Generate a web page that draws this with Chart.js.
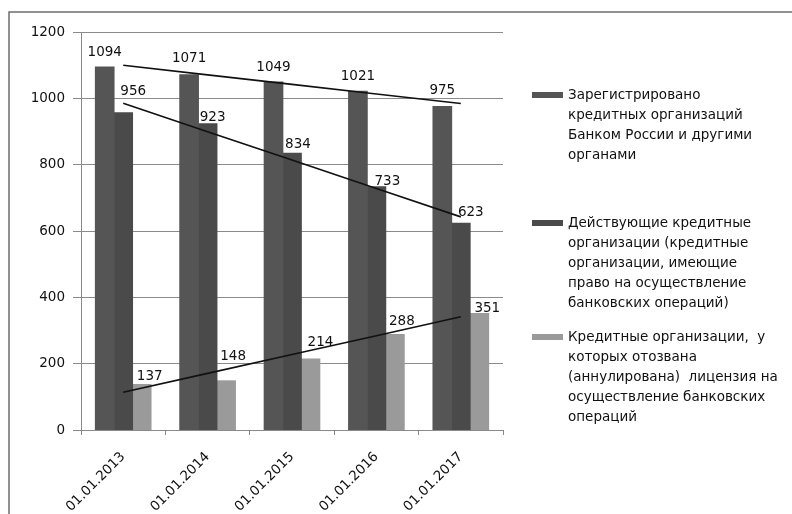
<!DOCTYPE html>
<html>
<head>
<meta charset="utf-8">
<script src="https://cdn.jsdelivr.net/npm/chart.js@4/dist/chart.umd.min.js"></script>
<style>
  html, body { margin: 0; padding: 0; background: #fff; }
  #wrap { position: relative; width: 792px; height: 514px; }
</style>
</head>
<body>
<div id="wrap"><canvas id="c" width="792" height="514"></canvas></div>
<script>
// Credit institutions in Russia, counts at the start of each year
const categories = ['01.01.2013', '01.01.2014', '01.01.2015', '01.01.2016', '01.01.2017'];
const registered = [1094, 1071, 1049, 1021, 975];
const active     = [956, 923, 834, 733, 623];
const revoked    = [137, 148, 214, 288, 351];

const yMin = 0, yMax = 1200, yStep = 200;

const seriesNames = [
  ['Зарегистрировано', 'кредитных организаций', 'Банком России и другими', 'органами'],
  ['Действующие кредитные', 'организации (кредитные', 'организации, имеющие', 'право на осуществление', 'банковских операций)'],
  ['Кредитные организации,  у', 'которых отозвана', '(аннулирована)  лицензия на', 'осуществление банковских', 'операций']
];

// styling
const barColors = ['#555555', '#4a4a4a', '#9a9a9a'];
const FONT = '"DejaVu Sans", sans-serif';
const TEXT = '#111';
// offsets of each value label from the top centre of its bar [dx, dy]
const labelNudge = [
  [[0, -15], [0, -16], [0, -15], [0, -15], [0, -16]],
  [[10, -21], [5, -6], [6, -9], [11, -5], [10, -11]],
  [[8, -8], [7, -24], [10, -17], [7, -13], [8, -5]]
];
const legendTop = [95, 223, 337];
const legendLineH = 20;

// least-squares straight line through a series, evaluated at each category
function trend(values) {
  const n = values.length;
  const xs = values.map((_, i) => i + 1);
  const mx = xs.reduce((a, b) => a + b, 0) / n;
  const my = values.reduce((a, b) => a + b, 0) / n;
  let sxy = 0, sxx = 0;
  for (let i = 0; i < n; i++) { sxy += (xs[i] - mx) * (values[i] - my); sxx += (xs[i] - mx) ** 2; }
  const k = sxy / sxx;
  return xs.map(x => my + k * (x - mx));
}

const barSets = [registered, active, revoked];

const datasets = barSets.map((vals, i) => ({
  type: 'bar',
  label: seriesNames[i].join(' '),
  data: vals,
  backgroundColor: barColors[i],
  borderWidth: 0,
  inflateAmount: 0.6,
  categoryPercentage: 0.657,
  barPercentage: 1.0,
  order: 2
}));
barSets.forEach((vals) => {
  datasets.push({
    type: 'line',
    label: '',
    data: trend(vals),
    borderColor: '#111',
    borderWidth: 1.6,
    pointRadius: 0,
    fill: false,
    tension: 0,
    order: 0
  });
});

const frame = {
  id: 'frame',
  beforeDraw(chart) {
    const ctx = chart.ctx;
    ctx.save();
    ctx.strokeStyle = '#6e6e6e';
    ctx.lineWidth = 1.5;
    ctx.beginPath();
    ctx.moveTo(9, 514);
    ctx.lineTo(9, 12);
    ctx.lineTo(792, 12);
    ctx.stroke();
    ctx.restore();
  }
};

const valueLabels = {
  id: 'valueLabels',
  afterDatasetsDraw(chart) {
    const ctx = chart.ctx;
    ctx.save();
    ctx.font = '13.5px ' + FONT;
    ctx.fillStyle = TEXT;
    ctx.textAlign = 'center';
    ctx.textBaseline = 'middle';
    for (let s = 0; s < barSets.length; s++) {
      const meta = chart.getDatasetMeta(s);
      meta.data.forEach((el, j) => {
        const [dx, dy] = labelNudge[s][j];
        ctx.fillText(String(barSets[s][j]), el.x + dx, el.y + dy);
      });
    }
    ctx.restore();
  }
};

const sideLegend = {
  id: 'sideLegend',
  afterDraw(chart) {
    const ctx = chart.ctx;
    ctx.save();
    ctx.font = '13.5px ' + FONT;
    ctx.textAlign = 'left';
    ctx.textBaseline = 'middle';
    seriesNames.forEach((lines, i) => {
      const y0 = legendTop[i];
      ctx.fillStyle = barColors[i];
      ctx.fillRect(532, y0 - 3, 31, 6);
      ctx.fillStyle = TEXT;
      lines.forEach((t, k) => ctx.fillText(t, 568, y0 + k * legendLineH));
    });
    ctx.restore();
  }
};

new Chart(document.getElementById('c'), {
  data: { labels: categories, datasets },
  options: {
    responsive: false,
    animation: false,
    layout: { padding: { left: 0, top: 32, right: 289, bottom: 0 } },
    plugins: { legend: { display: false }, tooltip: { enabled: false } },
    scales: {
      x: {
        offset: true,
        grid: { display: true, drawOnChartArea: false, drawTicks: true, tickLength: 5, color: '#8a8a8a' },
        border: { display: true, color: '#8a8a8a', width: 1 },
        ticks: { minRotation: 45, maxRotation: 45, padding: 14, color: TEXT, font: { family: FONT, size: 13.5 } },
        afterFit(s) { s.height = 84; }
      },
      y: {
        min: yMin, max: yMax,
        grid: { color: '#8a8a8a', lineWidth: 1, tickLength: 8 },
        border: { display: true, color: '#8a8a8a', width: 1 },
        ticks: { stepSize: yStep, padding: 8, color: TEXT, font: { family: FONT, size: 13.5 }, callback: v => String(v) },
        afterFit(s) { s.width = 81; }
      }
    }
  },
  plugins: [frame, valueLabels, sideLegend]
});
</script>
</body>
</html>
